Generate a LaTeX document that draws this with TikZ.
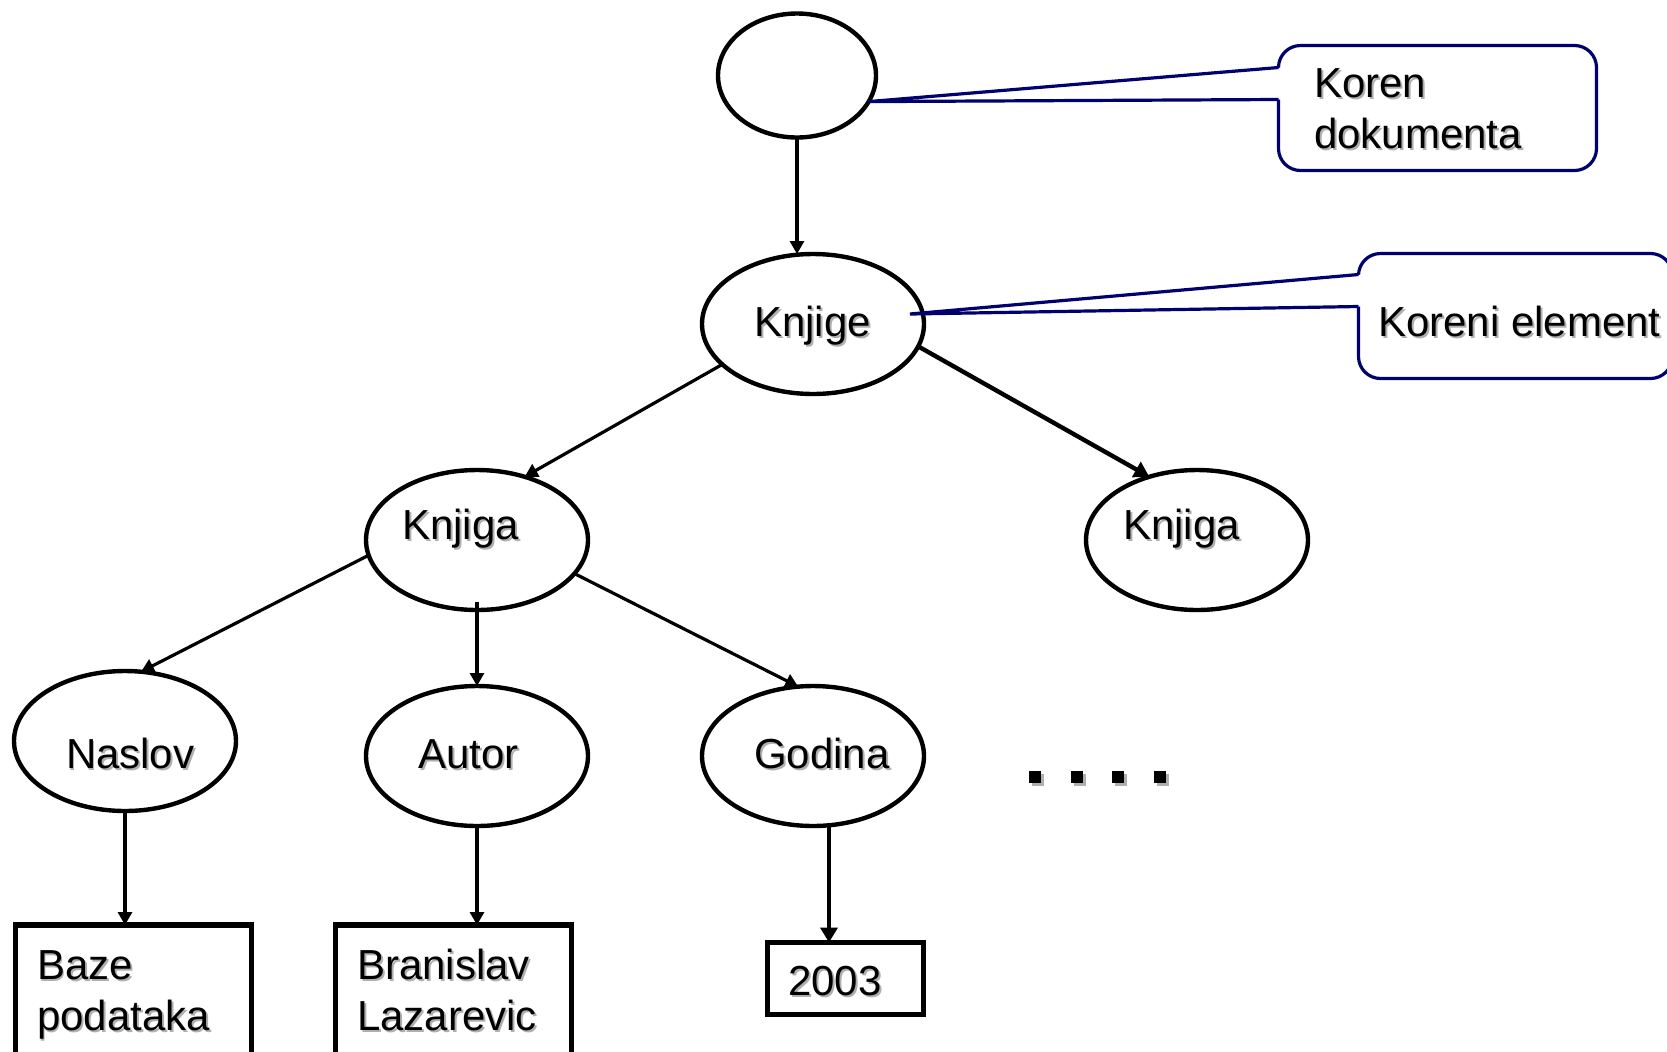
\documentclass[tikz,border=0pt]{standalone}
\usepackage{fontspec}
\setmainfont{Liberation Sans}
\usetikzlibrary{shapes.geometric,arrows.meta}
\definecolor{navy}{RGB}{0,0,110}
\definecolor{shadowgray}{RGB}{175,175,175}
% text with a soft grey drop shadow
\newcommand\shd[1]{\leavevmode\rlap{\kern1pt\raisebox{-1pt}{\textcolor{shadowgray}{#1}}}#1}

\begin{document}
\begin{tikzpicture}[x=0.5pt,y=-0.5pt,
  every node/.style={inner sep=0pt,outer sep=0pt},
  elem/.style={ellipse,draw,line width=2.2pt,fill=white,minimum width=111pt,minimum height=70pt},
  valbox/.style={rectangle,draw,line width=2.6pt},
  lbl/.style={anchor=base west,font=\fontsize{21}{25.5}\selectfont,align=left},
  conn/.style={line width=1.6pt,-{Triangle[length=6.5pt,width=7pt]}},
  connthick/.style={line width=2.2pt,-{Triangle[length=7.5pt,width=8.5pt]}},
  calloutbox/.style={rectangle,draw=navy,line width=1.6pt,rounded corners=11pt,fill=white},
  pointer/.style={draw=navy,line width=1.6pt},
]
\useasboundingbox (0,0) rectangle (1667,1051);
\clip (0,0) rectangle (1667,1051);

% tree of elements
\node[elem,minimum width=79pt,minimum height=62pt] (root) at (797,75.5) {};
\node[elem] (knjige)  at (813,324) {};
\node[elem] (knjigaL) at (477,540) {};
\node[elem] (knjigaR) at (1197,540) {};
\node[elem] (naslov)  at (125,741) {};
\node[elem] (autor)   at (477,756) {};
\node[elem] (godina)  at (813,756) {};

% text values
\node[valbox,minimum width=118pt,minimum height=78pt] (baze) at (133.5,1003) {};
\node[valbox,minimum width=118pt,minimum height=78pt] (bran) at (453.5,1003) {};
\node[valbox,minimum width=78pt,minimum height=36pt] (god) at (845.5,978.5) {};

% labels
\node[lbl] (tknjige)  at (754,336)  {\shd{Knjige}};
\node[lbl] (tknjigaL) at (402,539)  {\shd{Knjiga}};
\node[lbl] (tknjigaR) at (1123,539) {\shd{Knjiga}};
\node[lbl] (tnaslov)  at (66,768)   {\shd{Naslov}};
\node[lbl] (tautor)   at (418,768)  {\shd{Autor}};
\node[lbl] (tgodina)  at (754,768)  {\shd{Godina}};
\node[lbl] (tbaze)    at (37,1030)  {\shd{Baze}\\\shd{podataka}};
\node[lbl] (tbran)    at (357,1030) {\shd{Branislav}\\\shd{Lazarevic}};
\node[lbl] (tgod)     at (788,995)  {\shd{2003}};

% connectors
\draw[conn] (root.south) -- (root.south |- knjige.north);
\draw[conn] (knjige.204) -- (knjigaL.53);
\draw[connthick] (knjige.-12) -- (knjigaR.127);
\draw[conn] (knjigaL.188) -- (naslov.77);
\draw[conn] ([yshift=4pt]knjigaL.south) -- (autor.north);
\draw[conn] (knjigaL.-19) -- (godina.102);
\draw[conn] (naslov.south) -- (naslov.south |- baze.north);
\draw[conn] (autor.south) -- (autor.south |- bran.north);
\draw[connthick] (godina.-77) -- (godina.-77 |- god.north);

% continuation marks
\foreach \x [count=\i] in {1035,1077,1118,1160} {
  \fill[shadowgray] ({\x-3},774) rectangle +(12,12);
  \node[fill=black,minimum size=6pt] (dot\i) at (\x,777) {};
}

% callouts
\node[calloutbox,minimum width=159pt,minimum height=62.5pt] (c1) at (1437.5,108) {};
\node[calloutbox,minimum width=157pt,minimum height=62.5pt] (c2) at (1515.5,316) {};
\coordinate (tip1) at (root.-20);
\coordinate (tip2) at ([xshift=-7pt,yshift=5pt]knjige.east);
\fill[white] ([xshift=2pt,yshift=-11pt]c1.north west) -- (tip1) -- ([xshift=2pt,yshift=-27pt]c1.north west) -- cycle;
\fill[white] ([xshift=2pt,yshift=-10.5pt]c2.north west) -- (tip2) -- ([xshift=2pt,yshift=-26.5pt]c2.north west) -- cycle;
\draw[pointer] ([yshift=-11pt]c1.north west) -- (tip1) -- ([yshift=-27pt]c1.north west);
\draw[pointer] ([yshift=-10.5pt]c2.north west) -- (tip2) -- ([yshift=-26.5pt]c2.north west);
\node[lbl] (tc1) at (1314,148) {\shd{Koren}\\\shd{dokumenta}};
\node[lbl] (tc2) at (1378,336) {\shd{Koreni element}};
\end{tikzpicture}
\end{document}
